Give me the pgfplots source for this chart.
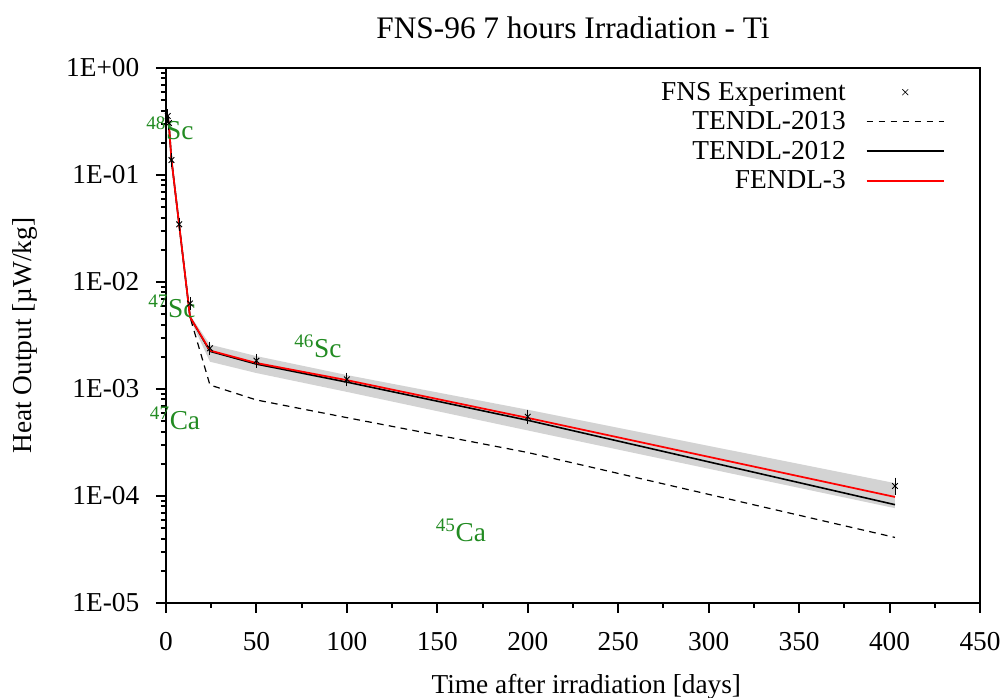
\documentclass[border=0pt]{standalone}
\usepackage{fontspec}
\setmainfont{Liberation Serif}
\usepackage{pgfplots}
\pgfplotsset{compat=1.18}
\definecolor{labgreen}{RGB}{34,139,34}
\definecolor{bandgray}{RGB}{211,211,211}
\begin{document}
\begin{tikzpicture}[font=\fontsize{20.5}{24}\selectfont]
\begin{axis}[
  scale only axis, width=610.5pt, height=401.25pt,
  ymode=log, xmin=0, xmax=450, ymin=1e-5, ymax=1,
  xtick={0,50,...,450}, minor x tick num=1,
  ytick={1e-5,1e-4,1e-3,1e-2,1e-1,1},
  yticklabels={1E-05,1E-04,1E-03,1E-02,1E-01,1E+00},
  minor ytick={2e-5,3e-5,4e-5,5e-5,6e-5,7e-5,8e-5,9e-5,
    2e-4,3e-4,4e-4,5e-4,6e-4,7e-4,8e-4,9e-4,
    2e-3,3e-3,4e-3,5e-3,6e-3,7e-3,8e-3,9e-3,
    2e-2,3e-2,4e-2,5e-2,6e-2,7e-2,8e-2,9e-2,
    0.2,0.3,0.4,0.5,0.6,0.7,0.8,0.9},
  xtick pos=left, ytick pos=left,
  tick align=outside, major tick length=7.5pt, minor tick length=3.75pt,
  every tick/.style={black, line width=1.5pt},
  axis line style={line width=2pt},
  /pgf/number format/assume math mode=true,
  xticklabel style={yshift=-11pt},
  yticklabel style={xshift=-9pt},
  clip=false,
  title={FNS-96 7 hours Irradiation - Ti},
  every axis title/.style={at={(axis description cs:0.5,1)}, anchor=base, yshift=22.5pt, font=\fontsize{23.5}{28}\selectfont},
  xlabel={Time after irradiation [days]},
  every axis x label/.style={at={(axis description cs:0.5,0)}, anchor=base, yshift=-67.5pt, xshift=10pt},
  ylabel={Heat Output [µW/kg]},
  every axis y label/.style={at={(axis description cs:0,0.5)}, xshift=-100.5pt, rotate=90, anchor=base},
  legend style={draw=none, fill=none, at={(axis description cs:0.962,0.984)}, anchor=north east, row sep=3pt, /tikz/column sep=13pt, font=\fontsize{20.5}{24}\selectfont},
  legend cell align=right, legend plot pos=right,
]
% legend
\addlegendimage{legend image code/.code={\draw[black, line width=0.5pt] (26.8pt,-2.2pt) -- (31.2pt,2.2pt) (26.8pt,2.2pt) -- (31.2pt,-2.2pt);}}
\addlegendentry{FNS Experiment}
\addlegendimage{legend image code/.code={\draw[black, line width=0.9pt, dash pattern=on 5pt off 4pt] (0pt,0pt) -- (58pt,0pt);}}
\addlegendentry{TENDL-2013}
\addlegendimage{legend image code/.code={\draw[black, line width=1.2pt] (0pt,0pt) -- (58pt,0pt);}}
\addlegendentry{TENDL-2012}
\addlegendimage{legend image code/.code={\draw[red, line width=1.3pt] (0pt,0pt) -- (58pt,0pt);}}
\addlegendentry{FENDL-3}
% band
\addplot[fill=bandgray, draw=none, forget plot] coordinates {
  (13.3,0.0049) (24.3,0.0026) (50,0.00203) (100,0.00135) (200,6.4e-4) (403,1.32e-4)
  (403,7.7e-5) (200,4.1e-4) (100,9.4e-4) (50,1.41e-3) (24.3,1.8e-3) (13.3,0.0045)} -- cycle;
\addplot[black, line width=0.9pt, dash pattern=on 5pt off 4pt, forget plot] coordinates {
  (1.0,0.35) (1.6,0.30) (3.0,0.14) (7.3,0.034) (13.3,0.0047) (24.3,0.00109) (50,7.9e-4) (100,5.4e-4) (200,2.55e-4) (403,4.1e-5)};
\addplot[black, line width=1.2pt, forget plot] coordinates {
  (1.0,0.35) (1.6,0.30) (3.0,0.14) (7.3,0.034) (13.3,0.0047) (24.3,0.00225) (50,0.00171) (100,0.00116) (200,5.1e-4) (403,8.3e-5)};
\addplot[red, line width=1.3pt, forget plot] coordinates {
  (1.0,0.35) (1.6,0.30) (3.0,0.14) (7.3,0.034) (13.3,0.0047) (24.3,0.00229) (50,0.00175) (100,0.00121) (200,5.37e-4) (403,9.8e-5)};
% experiment
\addplot[only marks, mark=x, mark size=3pt, black, mark options={line width=0.7pt}, forget plot,
  error bars/.cd, y dir=both, y explicit relative, error mark options={mark size=3pt, line width=0.7pt},
  error bar style={line width=0.7pt}]
  coordinates {(1.0,0.356)+-(0,0.06) (1.6,0.306)+-(0,0.06) (3.0,0.138)+-(0,0.06) (7.3,0.0346)+-(0,0.06)
  (13.3,0.0063)+-(0,0.06) (24.3,0.0024)+-(0,0.06) (50,0.00184)+-(0,0.06) (100,0.00123)+-(0,0.06)
  (200,5.5e-4)+-(0,0.07) (403,1.24e-4)+-(0,0.1)};
\node[text=labgreen] at (axis cs:2.2,0.275) {\textsuperscript{48}Sc};
\node[text=labgreen] at (axis cs:3.3,5.97e-3) {\textsuperscript{47}Sc};
\node[text=labgreen] at (axis cs:84,2.52e-3) {\textsuperscript{46}Sc};
\node[text=labgreen] at (axis cs:5,5.36e-4) {\textsuperscript{47}Ca};
\node[text=labgreen] at (axis cs:163,4.8e-5) {\textsuperscript{45}Ca};
\end{axis}
\pgfresetboundingbox
\path[use as bounding box] (-124.5pt,-70.5pt) rectangle (630.75pt,452.25pt);
\end{tikzpicture}
\end{document}
